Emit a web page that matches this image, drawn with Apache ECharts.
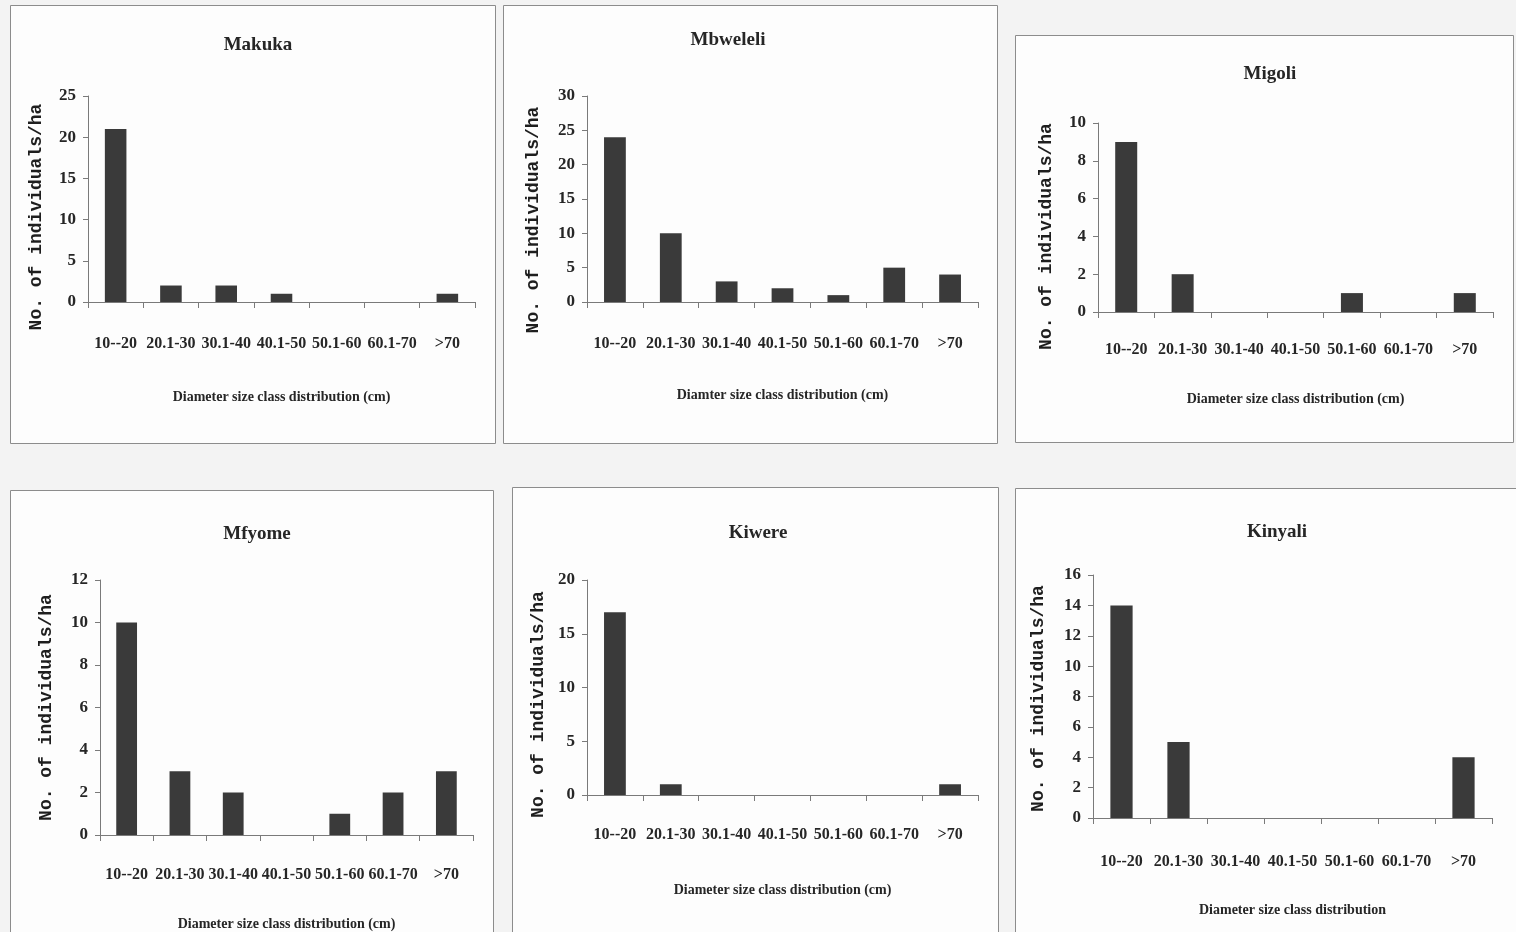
<!DOCTYPE html>
<html><head><meta charset="utf-8">
<script src="https://cdn.jsdelivr.net/npm/echarts@6/dist/echarts.min.js"></script>
<style>html,body{margin:0;padding:0;background:#f3f3f3;overflow:hidden}#c{width:1516px;height:932px}</style>
</head><body><div id="c"></div>
<script>
// ---- data ----
const categories = ['10--20', '20.1-30', '30.1-40', '40.1-50', '50.1-60', '60.1-70', '>70'];
const siteNames = ['Makuka', 'Mbweleli', 'Migoli', 'Mfyome', 'Kiwere', 'Kinyali'];
const makuka   = [21, 2, 2, 1, 0, 0, 1];
const mbweleli = [24, 10, 3, 2, 1, 5, 4];
const migoli   = [9, 2, 0, 0, 1, 0, 1];
const mfyome   = [10, 3, 2, 0, 1, 2, 3];
const kiwere   = [17, 1, 0, 0, 0, 0, 1];
const kinyali  = [14, 5, 0, 0, 0, 0, 4];
const yMaxes = [25, 30, 10, 12, 20, 16];
const ySteps = [5, 5, 2, 2, 5, 2];
const yAxisName = 'No. of individuals/ha';
const xAxisNames = [
  'Diameter size class distribution (cm)',
  'Diamter size class distribution (cm)',
  'Diameter size class distribution (cm)',
  'Diameter size class distribution (cm)',
  'Diameter size class distribution (cm)',
  'Diameter size class distribution'
];
const seriesValues = [makuka, mbweleli, migoli, mfyome, kiwere, kinyali];

// ---- layout (positions / styles) ----
const layout = [
  {box:[10,5,485,438],   grid:[88,96,387,206],   title:[253,31], lm:34, ng:88, yng:43, ys:18},
  {box:[503,5,494,438],  grid:[587,96,391,206],  title:[723,26], lm:34, ng:86, yng:45, ys:21},
  {box:[1015,35,498,407],grid:[1098,123,395,189],title:[1265,60], lm:30, ng:80, yng:43, ys:19},
  {box:[10,490,483,460], grid:[100,580,373,255], title:[252,520], lm:32, ng:82, yng:45, ys:0},
  {box:[512,487,486,460],grid:[587,580,391,215], title:[753,519], lm:32, ng:88, yng:40, ys:17},
  {box:[1015,488,520,460],grid:[1093,575,399,243],title:[1272,518], lm:36, ng:85, yng:46, ys:2}
];

const serif = '"Liberation Serif", "Times New Roman", serif';
const axisGray = '#7a7a7a';
const textCol = '#262626';

const option = {
  backgroundColor: '#f3f3f3',
  animation: false,
  graphic: layout.map(l => ({
    type: 'rect', silent: true, z: -10,
    shape: {x: l.box[0] + 0.5, y: l.box[1] + 0.5, width: l.box[2], height: l.box[3]},
    style: {fill: '#fdfdfd', stroke: '#8c8c8c', lineWidth: 1}
  })),
  title: siteNames.map((t, i) => ({
    text: t, left: layout[i].title[0], top: layout[i].title[1], textAlign: 'center',
    textStyle: {fontFamily: serif, fontWeight: 'bold', fontSize: 19, color: textCol}
  })),
  grid: layout.map(l => ({left: l.grid[0], top: l.grid[1], width: l.grid[2], height: l.grid[3], containLabel: false})),
  xAxis: layout.map((l, i) => ({
    type: 'category', gridIndex: i, data: categories,
    name: xAxisNames[i], nameLocation: 'middle', nameGap: l.ng,
    nameTextStyle: {fontFamily: serif, fontWeight: 'bold', fontSize: 14, color: textCol},
    axisLine: {show: true, lineStyle: {color: axisGray, width: 1}},
    axisTick: {show: true, alignWithLabel: false, length: 6, lineStyle: {color: axisGray}},
    axisLabel: {interval: 0, margin: l.lm, fontFamily: serif, fontWeight: 'bold', fontSize: 16, color: textCol},
    splitLine: {show: false}
  })),
  yAxis: layout.map((l, i) => ({
    type: 'value', gridIndex: i, min: 0, max: yMaxes[i], interval: ySteps[i],
    name: yAxisName, nameLocation: 'middle', nameGap: l.yng, nameRotate: 90,
    nameTextStyle: {fontFamily: '"Liberation Mono", "Courier New", monospace', fontWeight: 'bold', fontSize: 18, color: '#1e1e1e',
      padding: [0, l.ys * 2, 0, 0]},
    axisLine: {show: true, lineStyle: {color: axisGray, width: 1}},
    axisTick: {show: true, length: 5, lineStyle: {color: axisGray}},
    axisLabel: {margin: 12, fontFamily: serif, fontWeight: 'bold', fontSize: 17, color: textCol},
    splitLine: {show: false}
  })),
  series: seriesValues.map((vals, i) => ({
    type: 'bar', xAxisIndex: i, yAxisIndex: i, data: vals, barWidth: '39%',
    itemStyle: {color: '#3a3a3a'}
  }))
};

const chart = echarts.init(document.getElementById('c'), null, {renderer: 'canvas'});
chart.setOption(option);
</script>
</body></html>
